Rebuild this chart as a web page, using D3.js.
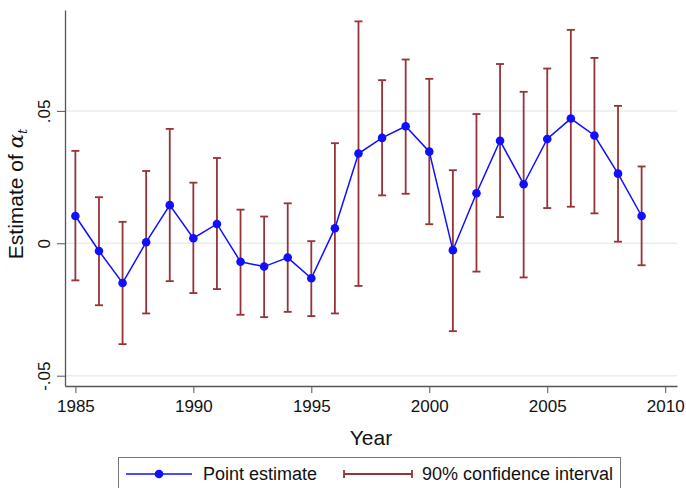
<!DOCTYPE html>
<html><head><meta charset="utf-8">
<script src="https://cdn.jsdelivr.net/npm/d3@7"></script>
<style>body{margin:0;background:#fff}svg{display:block}text{font-family:"Liberation Sans",Arial,sans-serif;fill:#111}</style>
</head><body>
<script>
const years = [1985,1986,1987,1988,1989,1990,1991,1992,1993,1994,1995,1996,1997,1998,1999,2000,2001,2002,2003,2004,2005,2006,2007,2008,2009];
const estimate = [0.0103,-0.0029,-0.0150,0.0004,0.0144,0.0019,0.0073,-0.0070,-0.0088,-0.0054,-0.0132,0.0057,0.0339,0.0398,0.0442,0.0346,-0.0026,0.0189,0.0387,0.0223,0.0394,0.0471,0.0407,0.0263,0.0103];
const ciUpper = [0.0349,0.0174,0.0081,0.0273,0.0432,0.0229,0.0322,0.0127,0.0101,0.0151,0.0008,0.0378,0.0838,0.0616,0.0694,0.0621,0.0276,0.0488,0.0677,0.0572,0.0660,0.0806,0.0700,0.0519,0.0290];
const ciLower = [-0.0140,-0.0234,-0.0381,-0.0265,-0.0143,-0.0188,-0.0173,-0.0270,-0.0279,-0.0259,-0.0275,-0.0265,-0.0161,0.0181,0.0187,0.0072,-0.0332,-0.0107,0.0099,-0.0129,0.0133,0.0138,0.0113,0.0006,-0.0083];
const xTicks = [1985,1990,1995,2000,2005,2010];
const yTicks = [-0.05,0,0.05];
const yTickLabels = ["-.05","0",".05"];

const W=686,H=488;
const svg=d3.select("body").append("svg").attr("width",W).attr("height",H);
const x=d3.scaleLinear().domain([1984.56,2010.5]).range([65,677]);
const y=d3.scaleLinear().domain([-0.0539,0.0881]).range([386,10]);
const ciColor="#973236", ptColor="#1010ff", axColor="#555";

// grid
svg.append("g").selectAll("line").data(yTicks).join("line")
  .attr("x1",65).attr("x2",677).attr("y1",d=>y(d)).attr("y2",d=>y(d))
  .attr("stroke","#e6eef0").attr("stroke-width",1.5);

// axes
const yAxis=svg.append("g").attr("transform","translate(65,0)")
  .call(d3.axisLeft(y).tickValues(yTicks).tickFormat((d,i)=>yTickLabels[i]).tickSize(8).tickSizeOuter(0));
yAxis.select(".domain").attr("stroke",axColor).attr("stroke-width",1.3);
yAxis.selectAll(".tick line").attr("stroke",axColor);
yAxis.selectAll(".tick text").attr("font-size",17).attr("fill","#111")
  .attr("text-anchor","middle").attr("transform",d=>`rotate(-90,${-15},${y(d)})`)
  .attr("x",-15).attr("dy",0).attr("y",d=>y(d)-y(d))
  .each(function(d){d3.select(this).attr("x",-15-0).attr("y",0);});
// reposition y tick labels precisely
yAxis.selectAll(".tick text").attr("transform","rotate(-90)").attr("x",0).attr("y",-15).attr("dy",0);

const xAxis=svg.append("g").attr("transform","translate(0,386)")
  .call(d3.axisBottom(x).tickValues(xTicks).tickFormat(d3.format("d")).tickSize(7).tickSizeOuter(0));
xAxis.select(".domain").attr("stroke",axColor).attr("stroke-width",1.3);
xAxis.selectAll(".tick line").attr("stroke",axColor);
xAxis.selectAll(".tick text").attr("font-size",17).attr("fill","#111").attr("y",26).attr("dy",0);

// axis titles
svg.append("text").attr("x",371).attr("y",445).attr("text-anchor","middle").attr("font-size",21).text("Year");
const yt=svg.append("text").attr("transform","translate(23,194) rotate(-90)").attr("text-anchor","middle").attr("font-size",21);
yt.append("tspan").text("Estimate of ");
yt.append("tspan").attr("font-family","'DejaVu Serif',serif").attr("font-style","italic").text("α");
yt.append("tspan").attr("font-family","'DejaVu Serif',serif").attr("font-style","italic").attr("font-size",13).attr("dy",4).text("t");

// CI bars
const cap=4;
const ci=svg.append("g").attr("stroke",ciColor).attr("stroke-width",1.8).attr("fill","none");
years.forEach((yr,i)=>{
  const cx=x(yr);
  ci.append("line").attr("x1",cx).attr("x2",cx).attr("y1",y(ciLower[i])).attr("y2",y(ciUpper[i]));
  ci.append("line").attr("x1",cx-cap).attr("x2",cx+cap).attr("y1",y(ciLower[i])).attr("y2",y(ciLower[i]));
  ci.append("line").attr("x1",cx-cap).attr("x2",cx+cap).attr("y1",y(ciUpper[i])).attr("y2",y(ciUpper[i]));
});

// line + points
svg.append("path").datum(years.map((yr,i)=>[yr,estimate[i]]))
  .attr("fill","none").attr("stroke",ptColor).attr("stroke-width",1.5)
  .attr("d",d3.line().x(d=>x(d[0])).y(d=>y(d[1])));
svg.append("g").selectAll("circle").data(years.map((yr,i)=>[yr,estimate[i]])).join("circle")
  .attr("cx",d=>x(d[0])).attr("cy",d=>y(d[1])).attr("r",4.3).attr("fill",ptColor);

// legend
const lg=svg.append("g");
lg.append("rect").attr("x",118.5).attr("y",457.5).attr("width",502).attr("height",40).attr("fill","#fff").attr("stroke","#777").attr("stroke-width",1);
lg.append("line").attr("x1",126).attr("x2",192).attr("y1",474).attr("y2",474).attr("stroke",ptColor).attr("stroke-width",1.5);
lg.append("circle").attr("cx",159).attr("cy",474).attr("r",4.3).attr("fill",ptColor);
lg.append("text").attr("x",203).attr("y",480).attr("font-size",18).text("Point estimate");
lg.append("line").attr("x1",344).attr("x2",412).attr("y1",474).attr("y2",474).attr("stroke",ciColor).attr("stroke-width",1.8);
lg.append("line").attr("x1",344).attr("x2",344).attr("y1",470).attr("y2",478).attr("stroke",ciColor).attr("stroke-width",1.8);
lg.append("line").attr("x1",412).attr("x2",412).attr("y1",470).attr("y2",478).attr("stroke",ciColor).attr("stroke-width",1.8);
lg.append("text").attr("x",422).attr("y",480).attr("font-size",18).text("90% confidence interval");
</script>
</body></html>
